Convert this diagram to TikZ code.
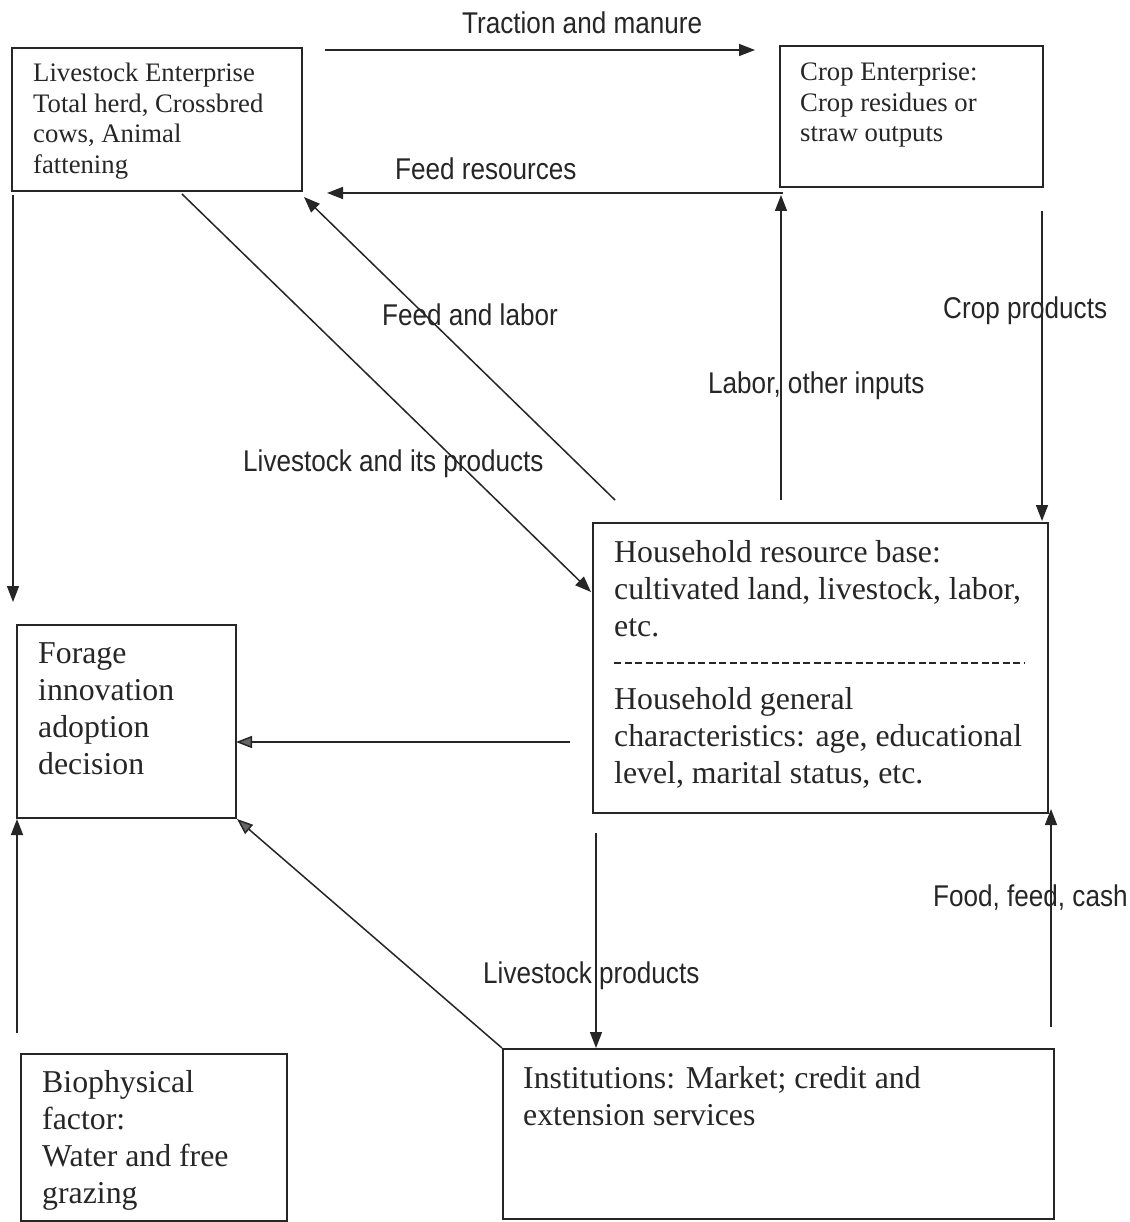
\documentclass[tikz,border=0pt]{standalone}
\usepackage{fontspec}
\setmainfont{Liberation Serif}
\newfontfamily\lblfont[FakeStretch=0.87]{Liberation Sans}
\usetikzlibrary{arrows.meta}
\begin{document}
\begin{tikzpicture}[x=1pt,y=-1pt,
  box/.style={draw=black!85, line width=1.6pt, inner sep=0pt, anchor=north west, fill=none},
  smalltxt/.style={anchor=base west, inner sep=0pt, align=left, font=\fontsize{26.7}{30.5}\selectfont, text=black!85},
  bigtxt/.style={anchor=base west, inner sep=0pt, align=left, font=\fontsize{31.8}{37.3}\selectfont, text=black!85},
  lbl/.style={anchor=base west, inner sep=0pt, font=\lblfont\fontsize{30}{36}\selectfont, text=black!85},
  conn/.style={line width=1.5pt, draw=black!85, -{Triangle[length=16pt,width=12pt]}},
  gconn/.style={line width=1.5pt, draw=black!85, -{Triangle[length=16pt,width=12pt,fill=black!60]}},
]
\useasboundingbox (0,0) rectangle (1129,1222);
\fill[white] (0,0) rectangle (1129,1222);

% boxes
\node[box, minimum width=290pt, minimum height=143pt] (live) at (11,47) {};
\node[box, minimum width=263pt, minimum height=141pt] (crop) at (779,45) {};
\node[box, minimum width=455pt, minimum height=290pt] (hh) at (592,522) {};
\node[box, minimum width=219pt, minimum height=193pt] (forage) at (16,624) {};
\node[box, minimum width=266pt, minimum height=167pt] (bio) at (20,1053) {};
\node[box, minimum width=551pt, minimum height=170pt] (inst) at (502,1048) {};

% box texts (base anchor = baseline of the last line)
\node[smalltxt] (liveT) at (33,173.5) {Livestock Enterprise\\Total herd, Crossbred\\cows, Animal\\fattening};
\node[smalltxt] (cropT) at (800,142) {Crop Enterprise:\\Crop residues or\\straw outputs};
\node[bigtxt] (hhT1) at (614,636.6) {Household resource base:\\cultivated land, livestock, labor,\\etc.};
\node[bigtxt] (hhT2) at (614,783.6) {Household general\\characteristics: age, educational\\level, marital status, etc.};
\node[bigtxt] (forT) at (38,774.9) {Forage\\innovation\\adoption\\decision};
\node[bigtxt] (bioT) at (42,1203.9) {Biophysical\\factor:\\Water and free\\grazing};
\node[bigtxt] (instT) at (523,1125.3) {Institutions: Market; credit and\\extension services};

\coordinate (dashA) at (614,663);
\coordinate (dashB) at (1025,663);
\draw[line width=1.4pt, draw=black!85, dash pattern=on 7pt off 3.5pt] (dashA) -- (dashB);

% connector end points
\coordinate (trA) at (325,50);
\coordinate (trB) at (755,50);
\coordinate (frA) at (783,193);
\coordinate (frB) at (327,193);
\coordinate (ldA) at (13,195);
\coordinate (ldB) at (13,602);
\coordinate (lspA) at (182,194);
\coordinate (lspB) at (591,592);
\coordinate (flA) at (615,500);
\coordinate (flB) at (304,197);
\coordinate (labA) at (781,500);
\coordinate (labB) at (781,195);
\coordinate (cpA) at (1042,211);
\coordinate (cpB) at (1042,521);
\coordinate (hfA) at (570,742);
\coordinate (hfB) at (236,742);
\coordinate (ffA) at (1051,1027);
\coordinate (ffB) at (1051,809);
\coordinate (lpA) at (596,833);
\coordinate (lpB) at (596,1048);
\coordinate (ifB) at (237,819);
\coordinate (bfA) at (17,1033);
\coordinate (bfB) at (17,819);

\draw[conn] (trA) -- (trB);
\draw[conn] (frA) -- (frB);
\draw[conn] (ldA) -- (ldB);
\draw[conn] (lspA) -- (lspB);
\draw[conn] (flA) -- (flB);
\draw[conn] (labA) -- (labB);
\draw[conn] (cpA) -- (cpB);
\draw[gconn] (hfA) -- (hfB);
\draw[conn] (ffA) -- (ffB);
\draw[conn] (lpA) -- (lpB);
\draw[gconn] (inst.north west) -- (ifB);
\draw[conn] (bfA) -- (bfB);

% labels
\node[lbl] (l1) at (462,34) {Traction and manure};
\node[lbl] (l2) at (395,180) {Feed resources};
\node[lbl] (l3) at (382,325) {Feed and labor};
\node[lbl] (l4) at (243,471) {Livestock and its products};
\node[lbl] (l5) at (943,318) {Crop products};
\node[lbl] (l6) at (708,393) {Labor, other inputs};
\node[lbl] (l7) at (933,906) {Food, feed, cash};
\node[lbl] (l8) at (483,983) {Livestock products};
\end{tikzpicture}
\end{document}
